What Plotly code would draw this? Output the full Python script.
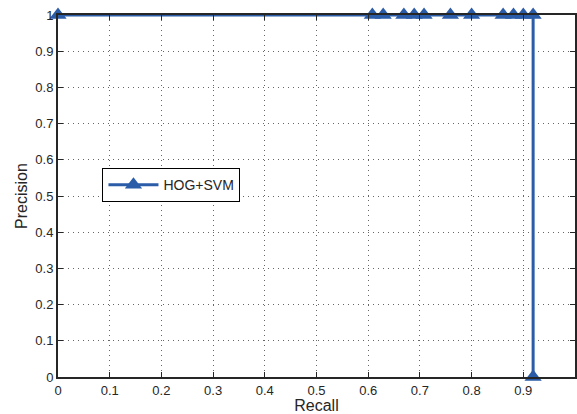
import plotly.graph_objects as go

recall = [0, 0.608, 0.629, 0.669, 0.689, 0.708, 0.759, 0.80, 0.861, 0.881, 0.90, 0.919, 0.919]
precision = [1, 1, 1, 1, 1, 1, 1, 1, 1, 1, 1, 1, 0]
series_name = "HOG+SVM"
tick_vals = [0, 0.1, 0.2, 0.3, 0.4, 0.5, 0.6, 0.7, 0.8, 0.9, 1]
tick_text = ["0", "0.1", "0.2", "0.3", "0.4", "0.5", "0.6", "0.7", "0.8", "0.9", "1"]

color = "#2b5ca8"
font_family = "Liberation Sans, Arial"
fig = go.Figure()
fig.add_trace(go.Scatter(
    x=recall, y=precision, mode="lines+markers", name=series_name,
    line=dict(color=color, width=3),
    marker=dict(symbol="triangle-up", size=15, color=color),
    cliponaxis=False,
))

axis_common = dict(
    range=[0, 1], tickvals=tick_vals, ticktext=tick_text,
    showgrid=True, gridcolor="#666666", griddash="1px,4px", gridwidth=1,
    zeroline=False, showline=True, linecolor="#262626", linewidth=2,
    mirror="ticks", ticks="inside", ticklen=5, tickcolor="#262626",
    tickfont=dict(family=font_family, size=13, color="#262626"),
    automargin=False,
)
fig.update_xaxes(**axis_common, title=dict(text="Recall", standoff=0,
                 font=dict(family=font_family, size=16, color="#262626")))
fig.update_yaxes(**axis_common, title=dict(text="Precision", standoff=4,
                 font=dict(family=font_family, size=16, color="#262626")))

fig.update_layout(
    width=577, height=414,
    margin=dict(l=58, r=2, t=15, b=37),
    paper_bgcolor="white", plot_bgcolor="white",
    showlegend=True,
    legend=dict(x=0.086, y=0.577, xanchor="left", yanchor="top",
                bordercolor="#000000", borderwidth=1, bgcolor="white",
                font=dict(family=font_family, size=14, color="#262626"),
                itemwidth=50),
)
fig.write_html("out.html")
